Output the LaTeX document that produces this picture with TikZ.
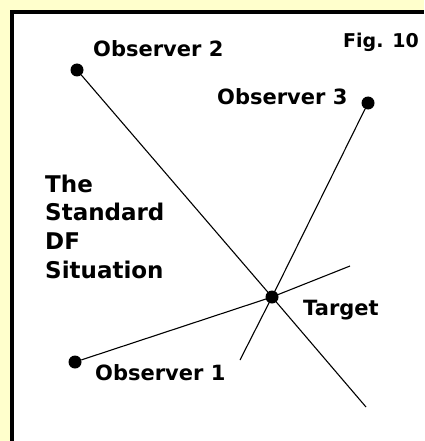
\documentclass[tikz,border=0pt]{standalone}
\usepackage{fontspec}
\setmainfont{DejaVu Sans}
\definecolor{bgyellow}{HTML}{FFFFCC}
\begin{document}
\begin{tikzpicture}[x=1pt,y=-1pt,
  dot/.style={circle,fill=black,inner sep=0pt,minimum size=13pt},
  ray/.style={line width=1.1pt},
  lbl/.style={inner sep=0pt,anchor=base west,font=\bfseries\fontsize{21}{21}\selectfont},
  bigtxt/.style={inner sep=0pt,anchor=base west,font=\bfseries\fontsize{23}{23}\selectfont}]
\useasboundingbox (0,0) rectangle (424,441);
\fill[bgyellow] (0,0) rectangle (424,441);
\fill[black] (10,10) rectangle (424,441);
\fill[white] (14,14) rectangle (424,441);
% dots
\node[dot] (o2) at (77,70) {};
\node[dot] (o3) at (368,103) {};
\node[dot] (o1) at (75,362) {};
\node[dot] (t) at (272,297) {};
\coordinate (e2) at (366,407);
\coordinate (e3) at (240,360);
\coordinate (e1) at (350,266);
% rays
\draw[ray] (o2) -- (t.center) -- (e2);
\draw[ray] (o3) -- (t.center) -- (e3);
\draw[ray] (o1) -- (t.center) -- (e1);
% labels
\node[lbl] (l2) at (93,57) {Observer 2};
\node[lbl] (l3) at (217,105) {Observer 3};
\node[lbl] (l1) at (95,380) {Observer 1};
\node[lbl] (lt) at (303,315) {Target};
\node[lbl,font=\bfseries\fontsize{19}{19}\selectfont] (fig) at (343,48) {Fig. 10};
\node[bigtxt] (s1) at (45,192) {The};
\node[bigtxt] (s2) at (45,220) {Standard};
\node[bigtxt] (s3) at (45,249) {DF};
\node[bigtxt] (s4) at (45,278) {Situation};
\end{tikzpicture}
\end{document}
